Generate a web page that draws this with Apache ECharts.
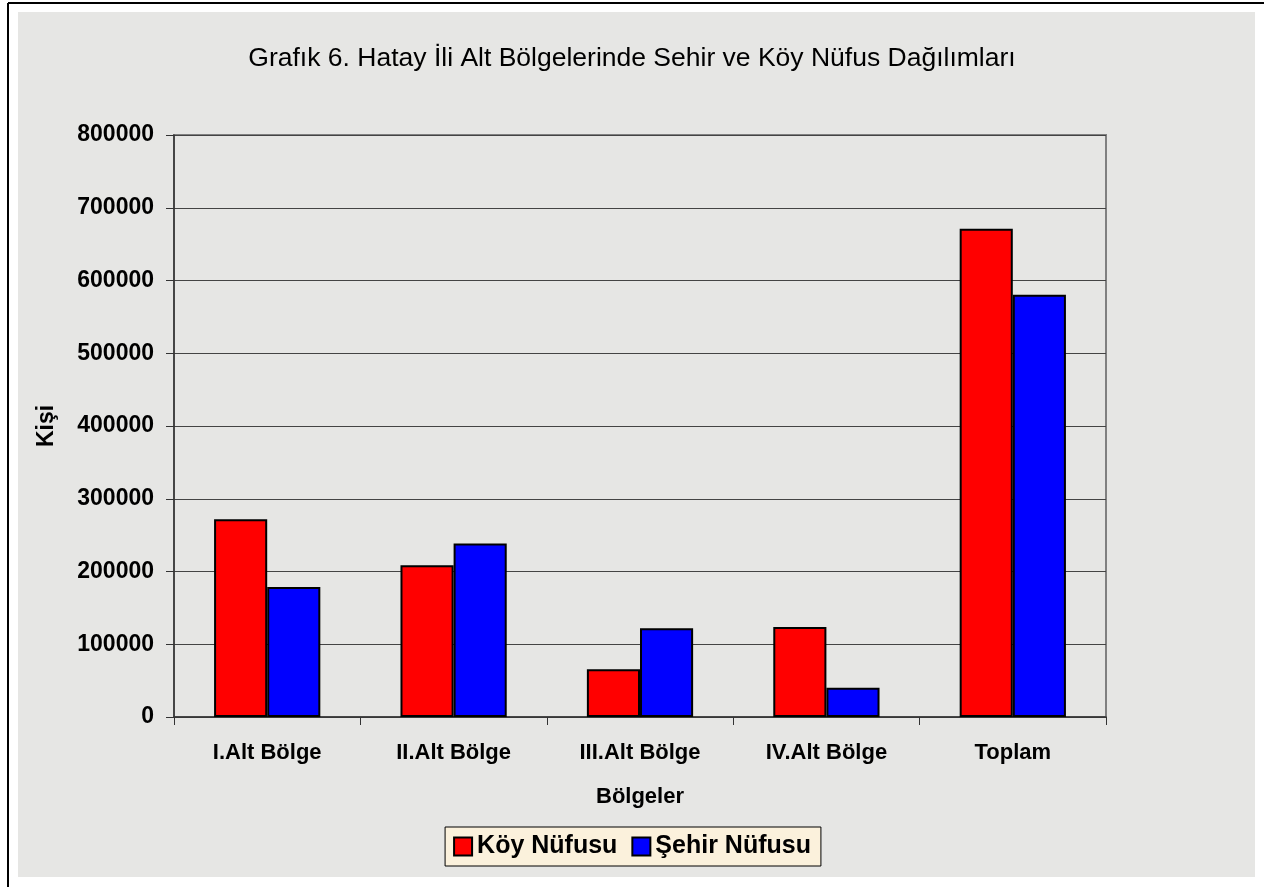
<!DOCTYPE html>
<html>
<head>
<meta charset="utf-8">
<script src="https://cdn.jsdelivr.net/npm/echarts@6/dist/echarts.min.js"></script>
<style>
  html, body { margin: 0; padding: 0; background: #fff; }
  #chart { width: 1264px; height: 887px; }
</style>
</head>
<body>
<div id="chart"></div>
<script>
// data
const categories = ["I.Alt Bölge", "II.Alt Bölge", "III.Alt Bölge", "IV.Alt Bölge", "Toplam"];
const koyNufusu = [271800, 208500, 65500, 123800, 671200];
const sehirNufusu = [178700, 238400, 121900, 40300, 580500];
const yTicks = { min: 0, max: 800000, interval: 100000 };

const font = 'Arial, "Liberation Sans", sans-serif';

const chart = echarts.init(document.getElementById("chart"));

chart.setOption({
  backgroundColor: "#ffffff",
  animation: false,
  title: {
    text: "Grafık 6. Hatay İli Alt Bölgelerinde Sehir ve Köy Nüfus Dağılımları",
    left: "center",
    top: 40,
    textStyle: { fontFamily: font, fontSize: 26.5, fontWeight: "normal", color: "#000" },
  },
  graphic: [
    // textured chart area (approximated with a flat grey)
    { type: "rect", z: -10, silent: true, shape: { x: 18, y: 12, width: 1237, height: 865 }, style: { fill: "#e6e6e4" } },
    // outer frame, only top and left visible
    { type: "line", z: -5, silent: true, shape: { x1: 8, y1: 3, x2: 1264, y2: 3 }, style: { stroke: "#000", lineWidth: 2 } },
    { type: "line", z: -5, silent: true, shape: { x1: 8, y1: 3, x2: 8, y2: 887 }, style: { stroke: "#000", lineWidth: 2 } },
  ],
  legend: {
    data: ["Köy Nüfusu", "Şehir Nüfusu"],
    left: "center",
    top: 827,
    backgroundColor: "#fbf1dc",
    borderColor: "#000",
    borderWidth: 1,
    padding: [7, 10, 7, 8],
    itemWidth: 18,
    itemHeight: 18,
    itemGap: 14,
    icon: "rect",
    textStyle: { fontFamily: font, fontSize: 25, fontWeight: "bold", color: "#000" },
  },
  grid: {
    left: 174,
    top: 135,
    right: 158,
    bottom: 170,
    show: true,
    borderColor: "#808080",
    borderWidth: 2,
    backgroundColor: "transparent",
  },
  xAxis: {
    type: "category",
    data: categories,
    boundaryGap: true,
    name: "Bölgeler",
    nameLocation: "middle",
    nameGap: 69,
    nameTextStyle: { fontFamily: font, fontSize: 22, fontWeight: "bold", color: "#000" },
    axisLine: { lineStyle: { color: "#333", width: 1.5 } },
    axisTick: { show: true, length: 8, lineStyle: { color: "#333" } },
    axisLabel: { fontFamily: font, fontSize: 22, fontWeight: "bold", color: "#000", margin: 25 },
  },
  yAxis: {
    type: "value",
    min: yTicks.min,
    max: yTicks.max,
    interval: yTicks.interval,
    name: "Kişi",
    nameLocation: "middle",
    nameRotate: 90,
    nameGap: 116,
    nameTextStyle: { fontFamily: font, fontSize: 23, fontWeight: "bold", color: "#000" },
    axisLine: { show: true, lineStyle: { color: "#333", width: 1.5 } },
    axisTick: { show: true, length: 8, lineStyle: { color: "#333" } },
    axisLabel: {
      fontFamily: font, fontSize: 23, fontWeight: "bold", color: "#000", margin: 20,
      formatter: (v) => String(v),
    },
    splitLine: { show: true, lineStyle: { color: "#444", width: 1 } },
  },
  series: [
    {
      name: "Köy Nüfusu",
      type: "bar",
      data: koyNufusu,
      barGap: "0%",
      barCategoryGap: "43%",
      itemStyle: { color: "#ff0000", borderColor: "#000", borderWidth: 2 },
    },
    {
      name: "Şehir Nüfusu",
      type: "bar",
      data: sehirNufusu,
      barGap: "0%",
      barCategoryGap: "43%",
      itemStyle: { color: "#0000ff", borderColor: "#000", borderWidth: 2 },
    },
  ],
});

window.addEventListener("resize", () => chart.resize());
</script>
</body>
</html>
